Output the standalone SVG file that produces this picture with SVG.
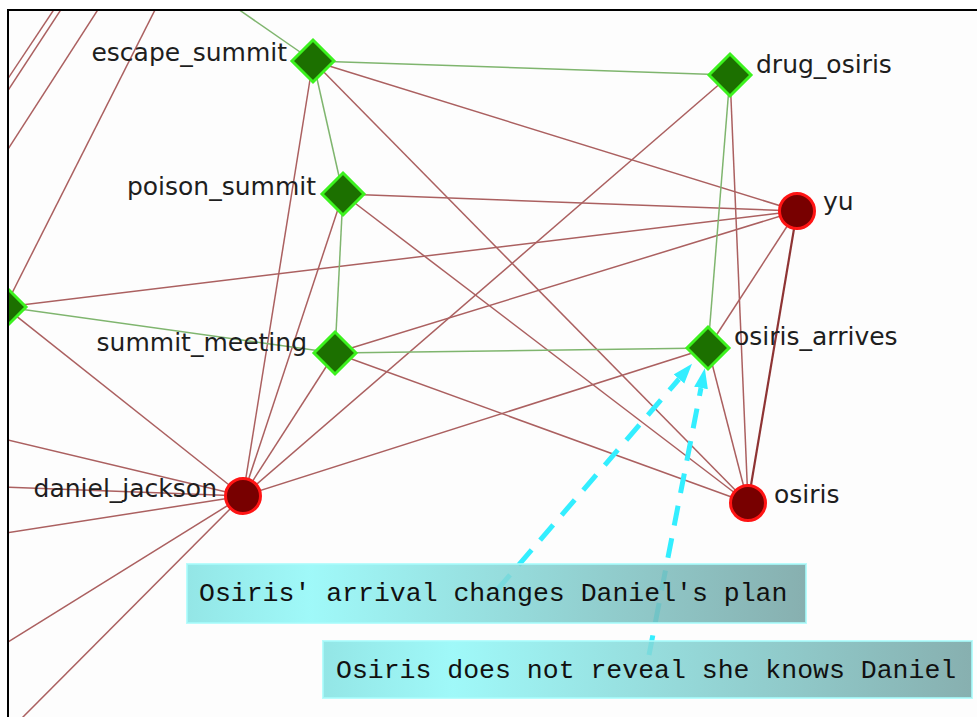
<svg xmlns="http://www.w3.org/2000/svg" width="977" height="717" viewBox="0 0 977 717">
  <style>
    .re { stroke: #ab6060; stroke-width: 1.5; fill: none; }
    .rt { stroke: #8e3434; stroke-width: 2.2; fill: none; }
    .ge { stroke: #7fb56e; stroke-width: 1.5; fill: none; }
    .event { fill: #1c7000; stroke: #3cf21e; stroke-width: 3; stroke-linejoin: miter; }
    .agent { fill: #780000; stroke: #ff1414; stroke-width: 3; }
    .lbl { font-family: "DejaVu Sans", "Liberation Sans", sans-serif; font-size: 25px; fill: #1e1e1e; }
    .note { font-family: "Liberation Mono", "Courier New", monospace; font-size: 26.5px; fill: #111; }
    .dash { stroke: #33eeff; stroke-width: 5; stroke-dasharray: 20 13; fill: none; marker-end: url(#ah); }
    .box { fill: url(#boxg); fill-opacity: 0.86; stroke: #a8fbfb; stroke-width: 2; stroke-opacity: 0.8; }
  </style>
  <defs>
    <clipPath id="frame"><rect x="9" y="11" width="968" height="706"/></clipPath>
    <linearGradient id="boxg" x1="0" y1="0" x2="1" y2="0">
      <stop offset="0" stop-color="#82e2e2"/>
      <stop offset="0.2" stop-color="#90f8f8"/>
      <stop offset="1" stop-color="#74a3a3"/>
    </linearGradient>
    <marker id="ah" markerUnits="userSpaceOnUse" markerWidth="22" markerHeight="16" refX="0" refY="7" orient="auto">
      <path d="M0,0 L20,7 L0,14 z" fill="#33eeff"/>
    </marker>
  </defs>
  <rect x="0" y="0" width="977" height="717" fill="#ffffff"/>
  <rect x="9" y="11" width="968" height="706" fill="#fdfdfd"/>

  <g clip-path="url(#frame)">
    <g id="connectors">
      <!-- red agent-event edges -->
      <line class="re" x1="313" y1="61" x2="797" y2="211"/>
      <line class="re" x1="313" y1="61" x2="748" y2="503"/>
      <line class="re" x1="313" y1="61" x2="243" y2="496"/>
      <line class="re" x1="343" y1="194" x2="797" y2="211"/>
      <line class="re" x1="343" y1="194" x2="748" y2="503"/>
      <line class="re" x1="343" y1="194" x2="243" y2="496"/>
      <line class="re" x1="335" y1="353" x2="797" y2="211"/>
      <line class="re" x1="335" y1="353" x2="748" y2="503"/>
      <line class="re" x1="335" y1="353" x2="243" y2="496"/>
      <line class="re" x1="730" y1="75" x2="243" y2="496"/>
      <line class="re" x1="730" y1="75" x2="748" y2="503"/>
      <line class="re" x1="797" y1="211" x2="5" y2="307"/>
      <line class="re" x1="797" y1="211" x2="708" y2="348"/>
      <line class="rt" x1="797" y1="211" x2="748" y2="503"/>
      <line class="re" x1="708" y1="348" x2="243" y2="496"/>
      <line class="re" x1="708" y1="348" x2="748" y2="503"/>
      <line class="re" x1="5" y1="307" x2="243" y2="496"/>
      <line class="re" x1="5" y1="307" x2="160" y2="0"/>
      <line class="re" x1="243" y1="496" x2="0" y2="438"/>
      <line class="re" x1="243" y1="496" x2="0" y2="487"/>
      <line class="re" x1="243" y1="496" x2="0" y2="534"/>
      <line class="re" x1="243" y1="496" x2="0" y2="647"/>
      <line class="re" x1="243" y1="496" x2="20" y2="720"/>
      <line class="re" x1="55" y1="8" x2="3" y2="86"/>
      <line class="re" x1="62" y1="8" x2="3" y2="98"/>
      <line class="re" x1="99" y1="8" x2="3" y2="157"/>
      <!-- green event-event edges -->
      <line class="ge" x1="313" y1="61" x2="730" y2="75"/>
      <line class="ge" x1="313" y1="61" x2="343" y2="194"/>
      <line class="ge" x1="313" y1="61" x2="225" y2="0"/>
      <line class="ge" x1="343" y1="194" x2="335" y2="353"/>
      <line class="ge" x1="335" y1="353" x2="5" y2="307"/>
      <line class="ge" x1="335" y1="353" x2="708" y2="348"/>
      <line class="ge" x1="730" y1="75" x2="708" y2="348"/>
      <!-- annotation arrows -->
      <line class="dash" x1="497" y1="590" x2="679" y2="379"/>
      <line class="dash" x1="649" y1="655" x2="701" y2="388"/>
    </g>

    <g id="escape_summit">
      <polygon class="event" points="313,40 334,61 313,82 292,61"/>
      <text class="lbl" x="287" y="61" text-anchor="end">escape_summit</text>
    </g>
    <g id="poison_summit">
      <polygon class="event" points="343,173 364,194 343,215 322,194"/>
      <text class="lbl" x="316" y="195" text-anchor="end">poison_summit</text>
    </g>
    <g id="drug_osiris">
      <polygon class="event" points="730,54 751,75 730,96 709,75"/>
      <text class="lbl" x="756" y="73">drug_osiris</text>
    </g>
    <g id="summit_meeting">
      <polygon class="event" points="335,332 356,353 335,374 314,353"/>
      <text class="lbl" x="307" y="351" text-anchor="end">summit_meeting</text>
    </g>
    <g id="offscreen_event">
      <polygon class="event" points="5,286 26,307 5,328 -16,307"/>
    </g>
    <g id="osiris_arrives">
      <polygon class="event" points="708,327 729,348 708,369 687,348"/>
      <text class="lbl" x="734" y="345">osiris_arrives</text>
    </g>
    <g id="yu">
      <circle class="agent" cx="797" cy="211" r="17.5"/>
      <text class="lbl" x="823" y="210">yu</text>
    </g>
    <g id="daniel_jackson">
      <circle class="agent" cx="243" cy="496" r="17.5"/>
      <text class="lbl" x="217" y="497" text-anchor="end">daniel_jackson</text>
    </g>
    <g id="osiris">
      <circle class="agent" cx="748" cy="503" r="17.5"/>
      <text class="lbl" x="774" y="503">osiris</text>
    </g>

    <g id="note_arrival">
      <rect class="box" x="187" y="564" width="619" height="59"/>
      <text class="note" x="199" y="601">Osiris' arrival changes Daniel's plan</text>
    </g>
    <g id="note_reveal">
      <rect class="box" x="323" y="641" width="649" height="57"/>
      <text class="note" x="336" y="678">Osiris does not reveal she knows Daniel</text>
    </g>
  </g>

  <path d="M8,717 V10 H977" fill="none" stroke="#000" stroke-width="2"/>
</svg>
